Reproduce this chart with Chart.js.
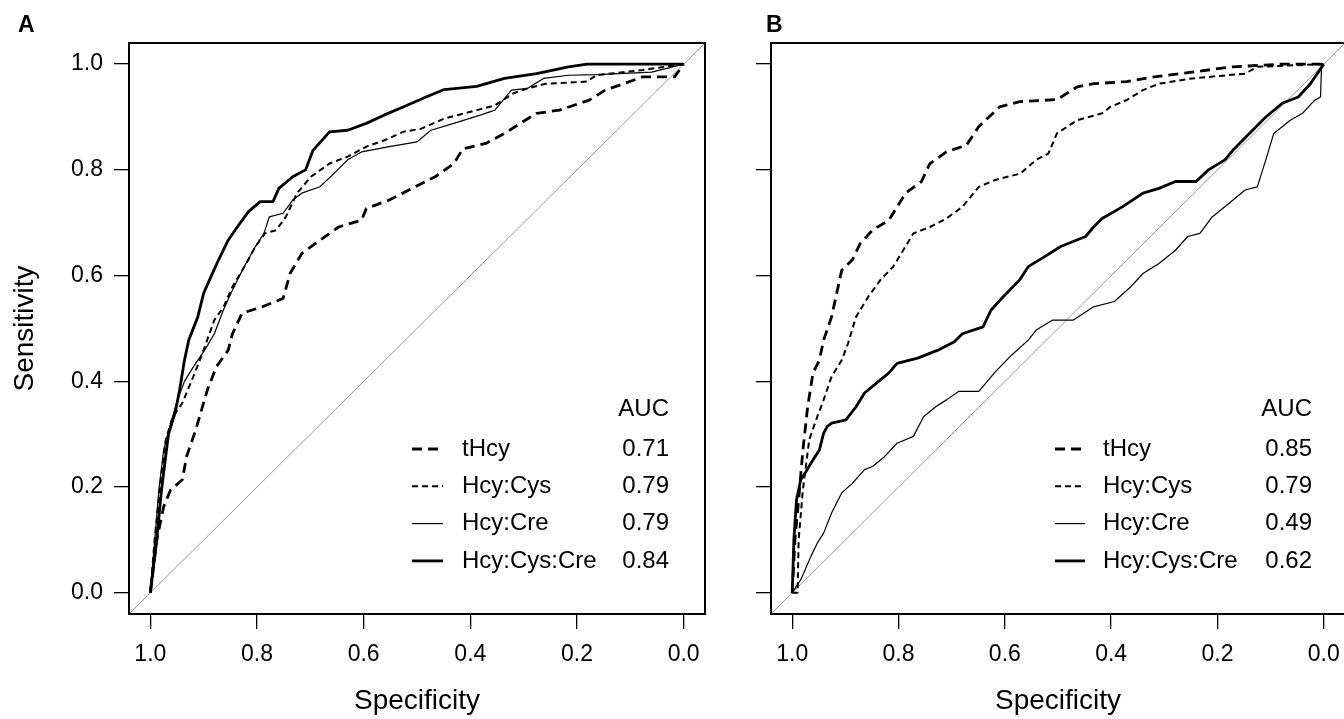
<!DOCTYPE html>
<html>
<head>
<meta charset="utf-8">
<title>ROC curves</title>
<script src="https://cdn.jsdelivr.net/npm/chart.js@4.4.0/dist/chart.umd.min.js"></script>
<style>
html, body { margin:0; padding:0; background:#fff; overflow:hidden; width:1344px; height:719px; }
.panel { position:absolute; top:0; height:719px; }
#wrapA { left:0; width:720px; }
#wrapB { left:720px; width:640px; }
.tag { position:absolute; top:13px; font:bold 23px 'Liberation Sans', Arial, sans-serif; line-height:1; }
</style>
</head>
<body>
<div id="wrapA" class="panel"><canvas id="rocA"></canvas></div>
<div id="wrapB" class="panel"><canvas id="rocB"></canvas></div>
<div class="tag" style="left:18px">A</div>
<div class="tag" style="left:766px">B</div>
<script>
// series + tick labels
var seriesNames = ['tHcy', 'Hcy:Cys', 'Hcy:Cre', 'Hcy:Cys:Cre'];
var aucA = ['0.71', '0.79', '0.79', '0.84'];
var aucB = ['0.85', '0.79', '0.49', '0.62'];
var tickVals = [0, 0.2, 0.4, 0.6, 0.8, 1.0];

// reference diagonal (sens = 1 - spec), corner to corner
var diagX = [1.04, -0.04];
var diagY = [-0.04, 1.04];

// panel A (specificity, sensitivity)
var specA_tHcy = [1.0, 0.988, 0.975, 0.962, 0.94, 0.932, 0.915, 0.893, 0.876, 0.854, 0.846, 0.828, 0.79, 0.751, 0.738, 0.716, 0.682, 0.647, 0.604, 0.595, 0.552, 0.509, 0.466, 0.431, 0.414, 0.371, 0.336, 0.311, 0.276, 0.233, 0.177, 0.147, 0.112, 0.077, 0.017, 0.0];
var sensA_tHcy = [0, 0.10, 0.163, 0.195, 0.214, 0.258, 0.308, 0.384, 0.428, 0.459, 0.49, 0.529, 0.541, 0.557, 0.604, 0.642, 0.667, 0.692, 0.705, 0.727, 0.743, 0.765, 0.787, 0.812, 0.84, 0.85, 0.869, 0.885, 0.907, 0.913, 0.932, 0.951, 0.963, 0.976, 0.976, 1.0];

var specA_cys = [1.0, 0.992, 0.979, 0.971, 0.958, 0.94, 0.919, 0.902, 0.88, 0.863, 0.846, 0.82, 0.803, 0.785, 0.764, 0.746, 0.725, 0.699, 0.664, 0.63, 0.595, 0.561, 0.526, 0.492, 0.449, 0.388, 0.354, 0.319, 0.293, 0.259, 0.181, 0.164, 0.077, 0.0];
var sensA_cys = [0, 0.10, 0.227, 0.29, 0.333, 0.359, 0.41, 0.454, 0.516, 0.54, 0.579, 0.623, 0.655, 0.68, 0.686, 0.711, 0.756, 0.787, 0.812, 0.825, 0.844, 0.856, 0.872, 0.878, 0.897, 0.913, 0.922, 0.945, 0.954, 0.963, 0.967, 0.979, 0.989, 1.0];

var specA_cre = [1.0, 0.984, 0.975, 0.962, 0.949, 0.936, 0.919, 0.898, 0.88, 0.863, 0.846, 0.824, 0.803, 0.787, 0.777, 0.751, 0.733, 0.716, 0.682, 0.656, 0.63, 0.604, 0.552, 0.50, 0.474, 0.431, 0.38, 0.354, 0.323, 0.293, 0.263, 0.216, 0.164, 0.06, 0.0];
var sensA_cre = [0, 0.195, 0.27, 0.32, 0.365, 0.40, 0.428, 0.459, 0.49, 0.535, 0.573, 0.617, 0.655, 0.68, 0.711, 0.718, 0.743, 0.756, 0.768, 0.793, 0.819, 0.834, 0.844, 0.853, 0.875, 0.888, 0.904, 0.913, 0.951, 0.954, 0.973, 0.979, 0.98, 0.985, 1.0];

var specA_all = [1.0, 0.988, 0.979, 0.966, 0.953, 0.945, 0.936, 0.928, 0.911, 0.90, 0.889, 0.872, 0.854, 0.837, 0.816, 0.794, 0.77, 0.759, 0.733, 0.709, 0.695, 0.664, 0.63, 0.595, 0.561, 0.526, 0.483, 0.449, 0.388, 0.336, 0.276, 0.216, 0.181, 0.0];
var sensA_all = [0, 0.10, 0.195, 0.30, 0.343, 0.384, 0.44, 0.478, 0.522, 0.567, 0.592, 0.63, 0.667, 0.692, 0.721, 0.74, 0.74, 0.765, 0.787, 0.80, 0.837, 0.872, 0.875, 0.888, 0.904, 0.919, 0.938, 0.952, 0.958, 0.973, 0.982, 0.995, 1.0, 1.0];

// panel B
var specB_tHcy = [1.0, 0.995, 0.988, 0.98, 0.971, 0.961, 0.949, 0.941, 0.926, 0.907, 0.887, 0.872, 0.849, 0.818, 0.787, 0.757, 0.741, 0.71, 0.672, 0.649, 0.61, 0.572, 0.502, 0.464, 0.433, 0.371, 0.325, 0.248, 0.171, 0.079, 0.0];
var sensB_tHcy = [0, 0.10, 0.176, 0.27, 0.352, 0.416, 0.44, 0.478, 0.522, 0.61, 0.63, 0.661, 0.686, 0.705, 0.756, 0.778, 0.812, 0.834, 0.847, 0.882, 0.919, 0.929, 0.933, 0.957, 0.963, 0.967, 0.975, 0.985, 0.995, 1.0, 1.0];

var specB_cys = [1.0, 0.99, 0.988, 0.98, 0.968, 0.953, 0.941, 0.926, 0.907, 0.895, 0.88, 0.857, 0.834, 0.81, 0.787, 0.772, 0.741, 0.71, 0.68, 0.649, 0.618, 0.571, 0.541, 0.518, 0.502, 0.464, 0.417, 0.402, 0.371, 0.34, 0.31, 0.248, 0.148, 0.125, 0.0];
var sensB_cys = [0, 0, 0.10, 0.195, 0.29, 0.333, 0.365, 0.409, 0.44, 0.472, 0.522, 0.56, 0.592, 0.617, 0.655, 0.68, 0.692, 0.708, 0.73, 0.768, 0.781, 0.793, 0.819, 0.831, 0.869, 0.894, 0.907, 0.919, 0.932, 0.951, 0.963, 0.973, 0.982, 0.995, 1.0];

var specB_cre = [1.0, 0.984, 0.976, 0.965, 0.953, 0.941, 0.926, 0.907, 0.887, 0.864, 0.849, 0.826, 0.803, 0.772, 0.753, 0.73, 0.71, 0.687, 0.649, 0.618, 0.587, 0.556, 0.541, 0.51, 0.471, 0.433, 0.394, 0.363, 0.34, 0.31, 0.279, 0.256, 0.233, 0.21, 0.178, 0.148, 0.125, 0.109, 0.094, 0.063, 0.04, 0.017, 0.006, 0.004, 0.0];
var sensB_cre = [0, 0.025, 0.043, 0.069, 0.094, 0.113, 0.151, 0.189, 0.207, 0.233, 0.239, 0.258, 0.283, 0.296, 0.333, 0.352, 0.365, 0.381, 0.381, 0.418, 0.45, 0.478, 0.497, 0.516, 0.516, 0.541, 0.551, 0.579, 0.604, 0.623, 0.648, 0.674, 0.68, 0.711, 0.737, 0.762, 0.768, 0.819, 0.869, 0.894, 0.907, 0.932, 0.938, 1.0, 1.0];

var specB_all = [1.0, 0.997, 0.992, 0.984, 0.976, 0.965, 0.949, 0.941, 0.934, 0.926, 0.899, 0.88, 0.864, 0.841, 0.818, 0.803, 0.764, 0.726, 0.695, 0.68, 0.641, 0.626, 0.603, 0.572, 0.556, 0.525, 0.495, 0.448, 0.433, 0.417, 0.379, 0.34, 0.31, 0.279, 0.24, 0.217, 0.186, 0.171, 0.14, 0.109, 0.078, 0.048, 0.025, 0.0];
var sensB_all = [0, 0.10, 0.176, 0.214, 0.226, 0.245, 0.27, 0.302, 0.315, 0.321, 0.327, 0.352, 0.378, 0.397, 0.416, 0.434, 0.444, 0.459, 0.475, 0.49, 0.503, 0.535, 0.56, 0.592, 0.617, 0.636, 0.655, 0.674, 0.692, 0.708, 0.73, 0.756, 0.765, 0.778, 0.778, 0.80, 0.819, 0.837, 0.869, 0.90, 0.926, 0.938, 0.963, 1.0];

var FONT = "'Liberation Sans', Arial, sans-serif";

// line style per series (same order as seriesNames)
var lineStyles = [
	{width: 2.8, dash: [10, 6]},
	{width: 2, dash: [6, 4]},
	{width: 1.2, dash: []},
	{width: 2.8, dash: []}
];

function pts(xs, ys){
	var out = [];
	for(var i = 0; i < xs.length; i++){
		out.push({x: xs[i], y: ys[i]});
	}
	return out;
}

function makeDatasets(specs, senss){
	var ds = [];
	for(var i = 0; i < specs.length; i++){
		ds.push({
			label: seriesNames[i],
			data: pts(specs[i], senss[i]),
			borderColor: '#000',
			borderWidth: lineStyles[i].width,
			borderDash: lineStyles[i].dash,
			borderJoinStyle: 'round',
			pointRadius: 0,
			fill: false,
			tension: 0
		});
	}
	ds.push({label: 'diag', data: pts(diagX, diagY), borderColor: '#9a9a9a', borderWidth: 1, pointRadius: 0, fill: false});
	return ds;
}

// box around the plot region
var boxPlugin = {
	id: 'plotBox',
	afterDatasetsDraw: function(chart){
		var ctx = chart.ctx, a = chart.chartArea;
		ctx.save();
		ctx.strokeStyle = '#000';
		ctx.lineWidth = 2;
		ctx.strokeRect(a.left, a.top, a.right - a.left, a.bottom - a.top);
		ctx.restore();
	}
};

// legend with AUC column
var aucPlugin = {
	id: 'aucTable',
	afterDraw: function(chart, args, o){
		var ctx = chart.ctx;
		ctx.save();
		ctx.font = '24px ' + FONT;
		ctx.fillStyle = '#000';
		ctx.strokeStyle = '#000';
		ctx.textBaseline = 'middle';
		ctx.textAlign = 'right';
		ctx.fillText('AUC', o.valueX, o.headY);
		for(var i = 0; i < seriesNames.length; i++){
			var y = o.firstY + i * o.rowGap;
			ctx.beginPath();
			ctx.setLineDash(lineStyles[i].dash);
			ctx.lineWidth = lineStyles[i].width;
			ctx.moveTo(o.lineX0, y);
			ctx.lineTo(o.lineX1, y);
			ctx.stroke();
			ctx.setLineDash([]);
			ctx.textAlign = 'left';
			ctx.fillText(seriesNames[i], o.textX, y);
			ctx.textAlign = 'right';
			ctx.fillText(o.values[i], o.valueX, y);
		}
		ctx.restore();
	}
};

function makeScales(showYLabels, yWidth){
	return {
		x: {
			type: 'linear', reverse: true, min: -0.04, max: 1.04,
			afterBuildTicks: function(s){ s.ticks = tickVals.map(function(v){ return {value: v}; }); },
			afterFit: function(s){ s.height = 105; },
			grid: {drawOnChartArea: false, drawTicks: true, tickLength: 15, color: '#000', lineWidth: 1.3},
			border: {display: false},
			ticks: {color: '#000', font: {family: FONT, size: 23}, padding: 12, maxRotation: 0,
				callback: function(v){ return v.toFixed(1); }},
			title: {display: true, text: 'Specificity', color: '#000', font: {family: FONT, size: 28}, padding: {top: 0, bottom: 1}}
		},
		y: {
			type: 'linear', min: -0.04, max: 1.04,
			afterBuildTicks: function(s){ s.ticks = tickVals.map(function(v){ return {value: v}; }); },
			afterFit: function(s){ s.width = yWidth; },
			grid: {drawOnChartArea: false, drawTicks: true, tickLength: 15, color: '#000', lineWidth: 1.3},
			border: {display: false},
			ticks: {display: showYLabels, color: '#000', font: {family: FONT, size: 23}, padding: 11,
				callback: function(v){ return v.toFixed(1); }},
			title: {display: showYLabels, text: 'Sensitivity', color: '#000', font: {family: FONT, size: 28}, padding: {top: 8, bottom: 0}}
		}
	};
}

function drawPanel(id, specs, senss, showY, yWidth, padRight, legend){
	return new Chart(document.getElementById(id), {
		type: 'line',
		data: {datasets: makeDatasets(specs, senss)},
		options: {
			responsive: true,
			maintainAspectRatio: false,
			animation: false,
			events: [],
			layout: {padding: {left: 0, right: padRight, top: 43, bottom: 0}},
			scales: makeScales(showY, yWidth),
			plugins: {legend: {display: false}, tooltip: {enabled: false}, aucTable: legend}
		},
		plugins: [boxPlugin, aucPlugin]
	});
}

drawPanel('rocA',
	[specA_tHcy, specA_cys, specA_cre, specA_all],
	[sensA_tHcy, sensA_cys, sensA_cre, sensA_all],
	true, 129, 15,
	{values: aucA, lineX0: 412, lineX1: 443, textX: 462, valueX: 669, headY: 409, firstY: 449, rowGap: 37.3});

drawPanel('rocB',
	[specB_tHcy, specB_cys, specB_cre, specB_all],
	[sensB_tHcy, sensB_cys, sensB_cre, sensB_all],
	false, 51, 15,
	{values: aucB, lineX0: 335, lineX1: 365, textX: 383, valueX: 592, headY: 409, firstY: 449, rowGap: 37.3});
</script>
</body>
</html>
